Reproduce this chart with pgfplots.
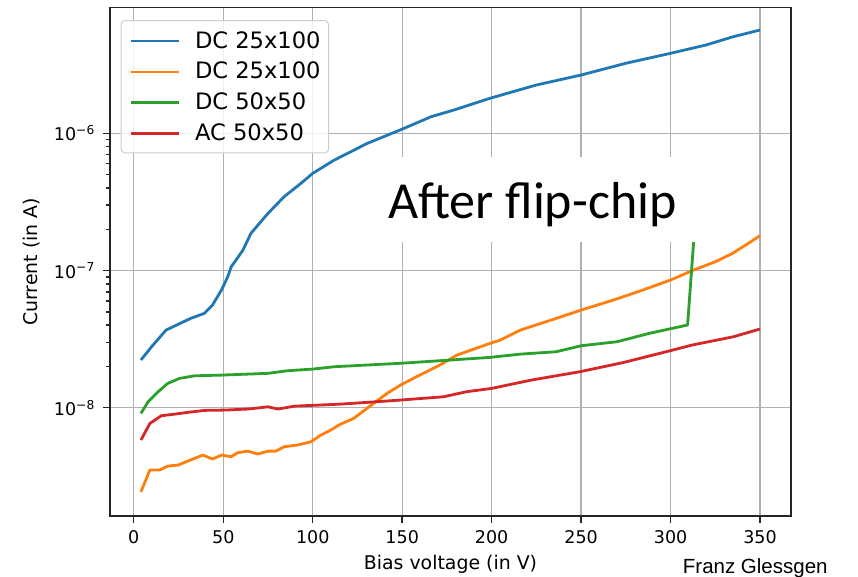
\documentclass[border=0pt]{standalone}
\usepackage{pgfplots}
\pgfplotsset{compat=1.18}
\usepackage{fontspec}
\setmainfont{DejaVu Sans}
\newfontfamily\carlito{Carlito}
\newfontfamily\arialf{Liberation Sans}
\definecolor{mplblue}{HTML}{1F77B4}
\definecolor{mplorange}{HTML}{FF7F0E}
\definecolor{mplgreen}{HTML}{2CA02C}
\definecolor{mplred}{HTML}{D62728}
\begin{document}
\begin{tikzpicture}
\useasboundingbox (0,0) rectangle (858bp,577bp);
\begin{axis}[
  at={(110bp,61bp)}, anchor=south west,
  width=681bp, height=508.5bp, scale only axis,
  xmin=-13.3, xmax=367.3,
  ymode=log, ymin=1.626e-9, ymax=8.26e-6,
  xtick={0,50,...,350},
  ytick={1e-8,1e-7,1e-6},
  yticklabels={10\textsuperscript{−8},10\textsuperscript{−7},10\textsuperscript{−6}},
  grid=major,
  major grid style={color=black!31, line width=1.3bp},
  axis line style={line width=1.5bp, black!85},
  tick align=outside, xtick pos=bottom, ytick pos=left,
  major tick length=7bp, minor tick length=4bp,
  tick style={line width=1.4bp, black!85},
  /pgf/number format/assume math mode=true,
  xticklabel style={font=\fontsize{17.5bp}{20bp}\selectfont, anchor=base, yshift=-20bp, inner sep=0pt},
  yticklabel style={font=\fontsize{17.5bp}{20bp}\selectfont, anchor=east, xshift=-8bp, inner sep=0pt},
  xlabel={Bias voltage (in V)},
  ylabel={Current (in A)},
  xlabel style={at={(axis description cs:0.5,-0.1042)}, anchor=base, font=\fontsize{18.9bp}{22bp}\selectfont, inner sep=0pt},
  ylabel style={at={(axis description cs:-0.1068,0.5)}, anchor=base, font=\fontsize{18.9bp}{22bp}\selectfont, inner sep=0pt},
  legend cell align=left,
  legend style={at={(axis description cs:0,1)}, anchor=north west, xshift=10.7bp, yshift=-12.5bp,
    draw=black!20, line width=1bp, rounded corners=4bp, fill=white, fill opacity=0.8, draw opacity=1, text opacity=1,
    font=\fontsize{22.6bp}{27bp}\selectfont,
    inner xsep=8bp, inner ysep=10.8bp, row sep=12.6bp,
    nodes={inner sep=0pt, anchor=base west},
    /tikz/every odd column/.append style={column sep=15bp}},
  legend image code/.code={\draw[#1] (0bp,7bp) -- (48bp,7bp);},
  every axis plot/.append style={line width=2.8bp, line join=round},
]
\addplot[mplblue] coordinates {
(4,2.23e-8) (10,2.79e-8) (18,3.68e-8) (25,4.07e-8) (32,4.49e-8) (39.5,4.88e-8)
(44,5.61e-8) (49,7.21e-8) (52.5,9.02e-8) (54.5,1.07e-7) (56.5,1.16e-7) (61,1.41e-7)
(65.5,1.87e-7) (75,2.61e-7) (84,3.45e-7) (93.5,4.33e-7) (100,5.11e-7) (112,6.38e-7)
(130.5,8.45e-7) (149,1.06e-6) (160,1.22e-6) (166,1.32e-6) (179,1.48e-6) (199,1.80e-6)
(225,2.25e-6) (250,2.66e-6) (275,3.24e-6) (300,3.83e-6) (320,4.41e-6) (335,5.06e-6)
(350,5.66e-6)};
\addlegendentry{DC 25x100}
\addplot[mplorange] coordinates {
(4,2.44e-9) (9,3.52e-9) (14.5,3.52e-9) (19,3.76e-9) (24.7,3.82e-9) (30,4.08e-9)
(38.6,4.52e-9) (44,4.23e-9) (49,4.52e-9) (54.4,4.40e-9) (58,4.70e-9) (63.7,4.83e-9)
(69.3,4.60e-9) (75,4.83e-9) (79.4,4.83e-9) (84,5.20e-9) (91.5,5.35e-9) (99,5.65e-9)
(104.5,6.32e-9) (110,6.87e-9) (115.6,7.60e-9) (123,8.38e-9) (134,1.076e-8) (141.6,1.274e-8)
(149,1.462e-8) (158,1.683e-8) (171,2.046e-8) (180.6,2.421e-8) (199,2.944e-8) (204.7,3.11e-8)
(216,3.681e-8) (234.4,4.406e-8) (250,5.152e-8) (268,6.095e-8) (284.5,7.211e-8) (300,8.531e-8)
(312,9.977e-8) (325,1.159e-7) (334.6,1.334e-7) (342,1.535e-7) (350,1.795e-7)};
\addlegendentry{DC 25x100}
\addplot[mplgreen] coordinates {
(4,9.10e-9) (8,1.107e-8) (13.6,1.309e-8) (19,1.507e-8) (25.6,1.637e-8) (34,1.710e-8)
(49,1.730e-8) (75,1.782e-8) (86,1.862e-8) (100,1.914e-8) (112,1.991e-8) (149,2.109e-8)
(177,2.228e-8) (199,2.328e-8) (216,2.460e-8) (236,2.559e-8) (250,2.831e-8) (270,3.027e-8)
(288,3.483e-8) (301,3.793e-8) (309.5,4.009e-8) (314.5,3.16e-7)};
\addlegendentry{DC 50x50}
\addplot[mplred] coordinates {
(4,5.82e-9) (9,7.69e-9) (15.4,8.75e-9) (23,8.99e-9) (30,9.25e-9) (39.5,9.57e-9)
(51,9.62e-9) (64,9.79e-9) (75,1.016e-8) (80.5,9.79e-9) (90,1.028e-8) (104.5,1.047e-8)
(116,1.064e-8) (136,1.107e-8) (149,1.138e-8) (173,1.202e-8) (186,1.309e-8) (200,1.384e-8)
(222,1.59e-8) (249,1.828e-8) (273,2.128e-8) (297.5,2.559e-8) (312,2.864e-8) (335,3.289e-8)
(350,3.750e-8)};
\addlegendentry{AC 50x50}
\end{axis}
\fill[white] (378bp,335bp) rectangle (715bp,420bp);
\node[anchor=base west, inner sep=0pt] at (388bp,358.7bp) {\carlito\fontsize{52bp}{60bp}\selectfont After flip-chip};
\node[anchor=base west, inner sep=0pt] at (682.7bp,4bp) {\arialf\fontsize{20.5bp}{24bp}\selectfont Franz Glessgen};
\end{tikzpicture}
\end{document}
